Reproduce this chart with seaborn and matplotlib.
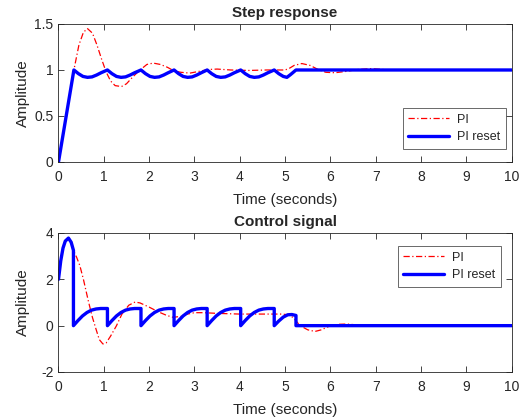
import numpy as np
import pandas as pd
import matplotlib
matplotlib.use("Agg")
import matplotlib.pyplot as plt
import seaborn as sns

# step response, classical PI
t_step_pi = [0, 0.17, 0.34, 0.45, 0.55, 0.64, 0.75, 0.85, 0.95, 1.05, 1.15, 1.25, 1.39, 1.5,
             1.65, 1.8, 1.95, 2.09, 2.25, 2.4, 2.55, 2.7, 2.9, 3.1, 3.3, 3.5, 3.8, 4.2, 4.6,
             5.0, 5.1, 5.2, 5.37, 5.55, 5.75, 5.9, 6.1, 6.35, 6.6, 6.9, 7.3, 10]
y_step_pi = [0, 0.5, 1.0, 1.27, 1.41, 1.45, 1.40, 1.27, 1.12, 0.98, 0.88, 0.83, 0.82, 0.85,
             0.93, 1.0, 1.06, 1.075, 1.06, 1.03, 0.99, 0.975, 0.966, 0.985, 1.005, 1.01, 1.0, 0.995, 1.0,
             1.0, 1.02, 1.05, 1.07, 1.05, 1.0, 0.975, 0.97, 0.985, 1.005, 1.015, 1.0, 1.0]

# step response, PI with reset
t_step_rs = [0, 0.34,
             0.44, 0.54, 0.64, 0.74, 0.84, 0.94, 1.08,
             1.18, 1.28, 1.38, 1.48, 1.58, 1.68, 1.82,
             1.92, 2.02, 2.12, 2.22, 2.32, 2.42, 2.55,
             2.65, 2.75, 2.85, 2.95, 3.05, 3.15, 3.28,
             3.38, 3.48, 3.58, 3.68, 3.78, 3.88, 4.02,
             4.12, 4.22, 4.32, 4.42, 4.52, 4.62, 4.76,
             4.86, 4.96, 5.04, 5.12, 5.24, 10]
y_step_rs = [0, 1.0,
             0.96, 0.93, 0.92, 0.925, 0.945, 0.97, 1.0,
             0.96, 0.93, 0.92, 0.925, 0.945, 0.97, 1.0,
             0.96, 0.93, 0.92, 0.925, 0.945, 0.97, 1.0,
             0.96, 0.93, 0.92, 0.925, 0.945, 0.97, 1.0,
             0.96, 0.93, 0.92, 0.925, 0.945, 0.97, 1.0,
             0.96, 0.93, 0.92, 0.925, 0.945, 0.97, 1.0,
             0.96, 0.93, 0.92, 0.95, 1.0, 1.0]

# control signal, classical PI
t_u_pi = [0, 0.05, 0.1, 0.15, 0.22, 0.28, 0.33, 0.4, 0.47, 0.55, 0.66, 0.75, 0.82, 0.9, 0.98,
          1.05, 1.15, 1.28, 1.4, 1.55, 1.69, 1.8, 2.0, 2.2, 2.39, 2.53, 2.7, 2.85, 3.0, 3.2,
          3.5, 4.0, 4.5, 4.9, 5.1, 5.2, 5.33, 5.5, 5.66, 5.8, 6.0, 6.2, 6.36, 6.6, 6.8, 10]
u_pi = [2.0, 2.8, 3.35, 3.65, 3.78, 3.6, 3.25, 2.95, 2.6, 2.0, 1.05, 0.35, -0.1, -0.6, -0.79,
        -0.75, -0.45, 0.0, 0.5, 0.88, 1.02, 0.98, 0.8, 0.6, 0.44, 0.36, 0.4, 0.5, 0.56, 0.56,
        0.53, 0.5, 0.5, 0.5, 0.47, 0.3, 0.0, -0.18, -0.25, -0.18, 0.0, 0.06, 0.07, 0.03, 0.0, 0.0]

# control signal, PI with reset
t_u_rs = [0, 0.05, 0.1, 0.15, 0.22, 0.28, 0.33, 0.33,
          0.43, 0.53, 0.63, 0.73, 0.83, 0.93, 1.08, 1.08,
          1.18, 1.28, 1.38, 1.48, 1.58, 1.68, 1.82, 1.82,
          1.92, 2.02, 2.12, 2.22, 2.32, 2.42, 2.55, 2.55,
          2.65, 2.75, 2.85, 2.95, 3.05, 3.15, 3.28, 3.28,
          3.38, 3.48, 3.58, 3.68, 3.78, 3.88, 4.02, 4.02,
          4.12, 4.22, 4.32, 4.42, 4.52, 4.62, 4.76, 4.76,
          4.86, 4.96, 5.06, 5.15, 5.24, 5.24, 10]
u_rs = [2.0, 2.8, 3.35, 3.65, 3.78, 3.6, 3.25, 0.0,
        0.22, 0.42, 0.57, 0.67, 0.72, 0.74, 0.74, 0.0,
        0.22, 0.42, 0.57, 0.67, 0.72, 0.74, 0.74, 0.0,
        0.22, 0.42, 0.57, 0.67, 0.72, 0.74, 0.74, 0.0,
        0.22, 0.42, 0.57, 0.67, 0.72, 0.74, 0.74, 0.0,
        0.22, 0.42, 0.57, 0.67, 0.72, 0.74, 0.74, 0.0,
        0.22, 0.42, 0.57, 0.67, 0.72, 0.74, 0.74, 0.0,
        0.2, 0.37, 0.47, 0.48, 0.44, 0.0, 0.0]

sns.set_style("ticks")
plt.rcParams['font.family'] = ['Liberation Sans', 'DejaVu Sans']
plt.rcParams['axes.unicode_minus'] = False

fig = plt.figure(figsize=(5.25, 4.2), dpi=100)
ax1 = fig.add_axes([0.1114, 0.6143, 0.8633, 0.3286])
ax2 = fig.add_axes([0.1114, 0.1143, 0.8633, 0.3310])


def draw(ax, t_a, y_a, t_b, y_b):
    sns.lineplot(x=t_a, y=y_a, ax=ax, color="red", linestyle=(0, (5, 2, 1, 2)), linewidth=0.9,
                 estimator=None, sort=False, label="PI")
    sns.lineplot(x=t_b, y=y_b, ax=ax, color="blue", linewidth=2.4,
                 estimator=None, sort=False, label="PI reset")
    ax.set_xlim(0, 10)
    ax.set_xticks(range(0, 11))
    ax.set_xlabel("Time (seconds)", fontsize=11, labelpad=6)
    ax.set_ylabel("Amplitude", fontsize=11)
    ax.yaxis.set_label_coords(-0.064, 0.5)
    ax.tick_params(direction="in", top=True, right=True, labelsize=10, length=4, width=0.6)
    ax.tick_params(axis="x", pad=6)
    for s in ax.spines.values():
        s.set_visible(True)
        s.set_linewidth(0.6)
        s.set_color("#262626")


def add_legend(ax, loc, anchor):
    leg = ax.legend(loc=loc, bbox_to_anchor=anchor, fontsize=9, frameon=True,
                    fancybox=False, edgecolor="#262626", handlelength=3.3, borderpad=0.45,
                    labelspacing=0.45, handletextpad=0.6, borderaxespad=0)
    leg.get_frame().set_linewidth(0.6)


draw(ax1, t_step_pi, y_step_pi, t_step_rs, y_step_rs)
ax1.set_ylim(0, 1.5)
ax1.set_yticks([0, 0.5, 1, 1.5])
ax1.set_yticklabels(["0", "0.5", "1", "1.5"])
ax1.set_title("Step response", fontsize=11, fontweight="bold", pad=5)
add_legend(ax1, "lower right", (0.987, 0.094))

draw(ax2, t_u_pi, u_pi, t_u_rs, u_rs)
ax2.set_ylim(-2, 4)
ax2.set_yticks([-2, 0, 2, 4])
ax2.set_title("Control signal", fontsize=11, fontweight="bold", pad=5)
add_legend(ax2, "upper right", (0.976, 0.906))

fig.savefig("out.png", dpi=100)
